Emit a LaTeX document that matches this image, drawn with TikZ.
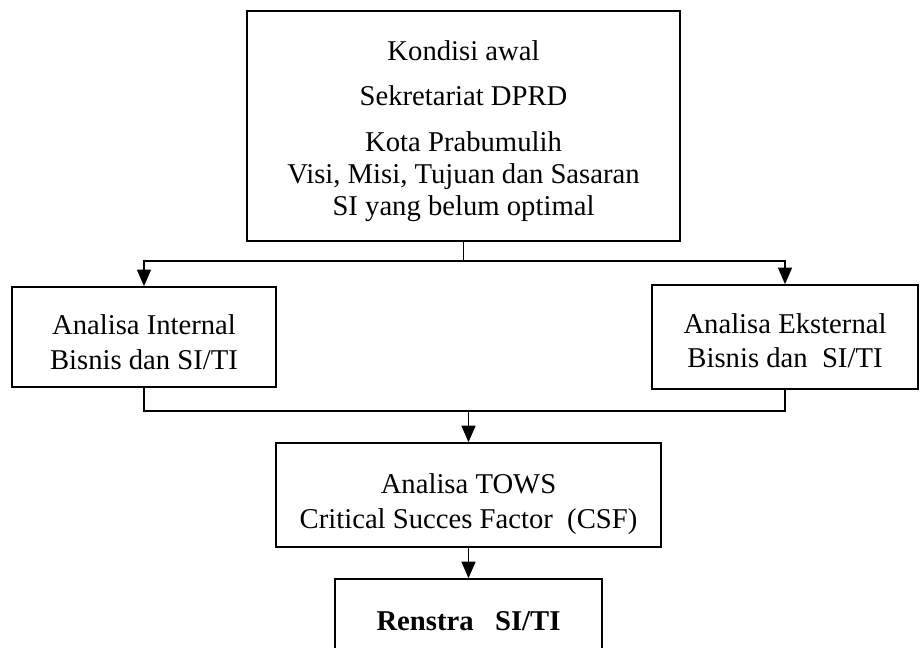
\documentclass[tikz,border=0pt]{standalone}
\usepackage{fontspec}
\setmainfont{Liberation Serif}
\usetikzlibrary{arrows.meta}

\tikzset{every picture/.style={line width=1.2pt}}
\tikzset{
  box/.style={draw, align=center, inner sep=0pt, font=\fontsize{21.5}{26}\selectfont},
  arr/.style={-{Triangle[length=12.5pt,width=10.5pt]}},
}
\newcommand{\boxtext}[2]{\raisebox{#1}[\height][\depth]{\begin{tabular}{@{}c@{}}#2\end{tabular}}}

\begin{document}
\begin{tikzpicture}[x=0.75pt,y=0.75pt,yscale=-1,xscale=1]
  \useasboundingbox (0,0) rectangle (920,648);

  % boxes
  \node [box, minimum width=433*0.75pt, minimum height=230*0.75pt, font=\fontsize{21.5}{24}\selectfont] (kondisi) at (463.5,126)
    {\boxtext{-4pt}{Kondisi awal\\[10pt] Sekretariat DPRD\\[10pt] Kota Prabumulih\\ Visi, Misi, Tujuan dan Sasaran\\ SI yang belum optimal}};
  \node [box, minimum width=264*0.75pt, minimum height=100*0.75pt] (internal) at (144,337)
    {\boxtext{-6pt}{Analisa Internal\\ Bisnis dan SI/TI}};
  \node [box, minimum width=266*0.75pt, minimum height=104*0.75pt] (eksternal) at (785,337)
    {\boxtext{-5pt}{Analisa Eksternal\\ Bisnis dan\ \ SI/TI}};
  \node [box, minimum width=385*0.75pt, minimum height=104*0.75pt] (tows) at (468.5,495)
    {\boxtext{-7pt}{Analisa TOWS\\ Critical Succes Factor\ \ (CSF)}};
  \node [box, minimum width=267*0.75pt, minimum height=90*0.75pt, font=\fontsize{21.5}{26}\selectfont\bfseries] (renstra) at (468.5,624)
    {\raisebox{5pt}{Renstra\ \ \ SI/TI}};

  % connectors
  \coordinate (split) at (463.5,261);
  \coordinate (join) at (468.5,411);
  \draw (kondisi.south) -- (split);
  \draw [arr] (split) -| (internal.north);
  \draw [arr] (split) -| (eksternal.north);
  \draw (internal.south) |- (join);
  \draw (eksternal.south) |- (join);
  \draw [arr] (join) -- (tows.north);
  \draw [arr] (tows.south) -- (renstra.north);

\end{tikzpicture}
\end{document}
